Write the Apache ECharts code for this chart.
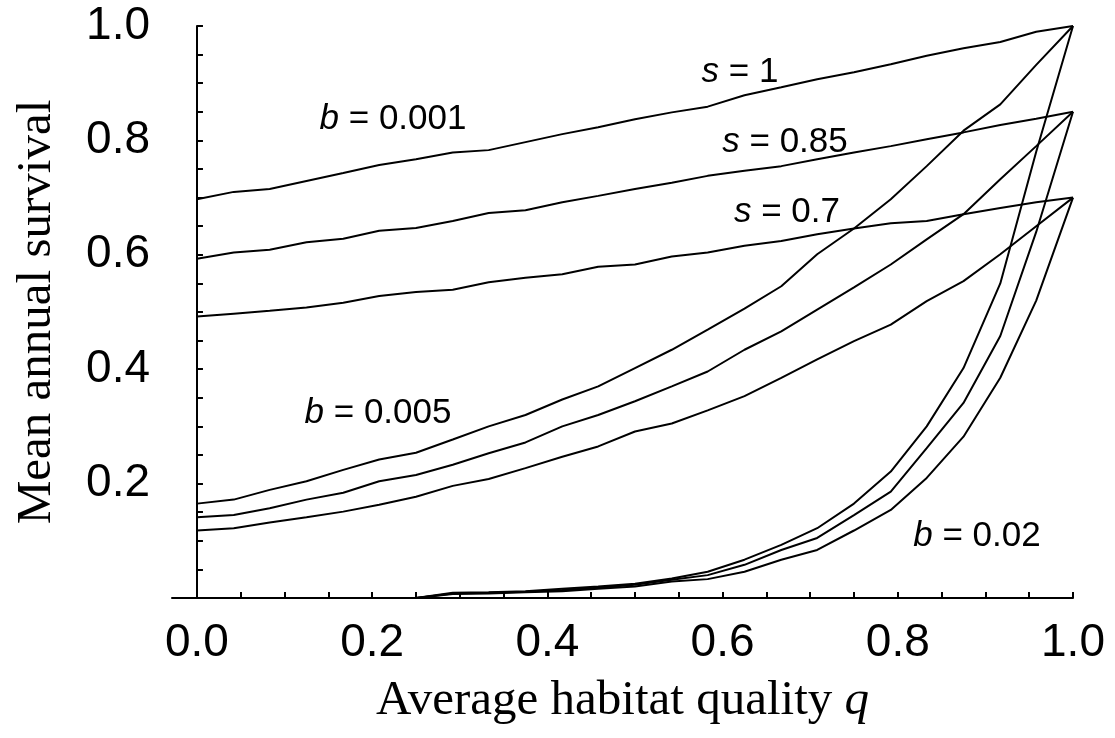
<!DOCTYPE html>
<html>
<head>
<meta charset="utf-8">
<title>Mean annual survival</title>
<script src="https://cdn.jsdelivr.net/npm/echarts@6.0.0/dist/echarts.min.js"></script>
<style>
    html, body { margin: 0; padding: 0; background: #fff; }
    #chart { width: 1115px; height: 738px; }
</style>
</head>
<body>
<div id="chart"></div>
<script>
// average habitat quality q (25 steps of 1/24)
const qValues = [0, 0.042, 0.083, 0.125, 0.167, 0.208, 0.25, 0.292, 0.333, 0.375, 0.417, 0.458, 0.5,
    0.542, 0.583, 0.625, 0.667, 0.708, 0.75, 0.792, 0.833, 0.875, 0.917, 0.958, 1];

// b = 0.001
const b001s100 = [0.697, 0.710, 0.715, 0.729, 0.743, 0.757, 0.767, 0.779, 0.783, 0.797, 0.811, 0.823, 0.837,
    0.849, 0.859, 0.879, 0.893, 0.907, 0.919, 0.933, 0.948, 0.961, 0.972, 0.990, 1.0];
const b001s085 = [0.593, 0.604, 0.609, 0.622, 0.628, 0.642, 0.647, 0.659, 0.673, 0.678, 0.692, 0.703, 0.715,
    0.726, 0.738, 0.747, 0.755, 0.767, 0.779, 0.790, 0.802, 0.814, 0.827, 0.838, 0.85];
const b001s070 = [0.492, 0.497, 0.502, 0.508, 0.516, 0.528, 0.535, 0.539, 0.552, 0.560, 0.566, 0.579, 0.583,
    0.597, 0.604, 0.616, 0.624, 0.636, 0.646, 0.655, 0.659, 0.671, 0.682, 0.692, 0.70];

// b = 0.005
const b005s100 = [0.165, 0.172, 0.189, 0.204, 0.224, 0.242, 0.254, 0.277, 0.300, 0.320, 0.347, 0.370, 0.402,
    0.434, 0.469, 0.506, 0.545, 0.601, 0.646, 0.697, 0.755, 0.817, 0.863, 0.932, 1.0];
const b005s085 = [0.141, 0.145, 0.157, 0.172, 0.184, 0.204, 0.215, 0.233, 0.253, 0.272, 0.300, 0.320, 0.344,
    0.370, 0.396, 0.434, 0.466, 0.504, 0.543, 0.583, 0.627, 0.671, 0.732, 0.790, 0.85];
const b005s070 = [0.118, 0.122, 0.132, 0.141, 0.151, 0.163, 0.177, 0.196, 0.208, 0.227, 0.247, 0.265, 0.291,
    0.305, 0.328, 0.353, 0.385, 0.417, 0.449, 0.478, 0.519, 0.554, 0.601, 0.650, 0.70];

// b = 0.02
const b02s100 = [0, 0, 0, 0, 0, 0, 0, 0.009, 0.010, 0.012, 0.016, 0.020, 0.025,
    0.034, 0.046, 0.067, 0.093, 0.122, 0.165, 0.221, 0.300, 0.402, 0.550, 0.780, 1.0];
const b02s085 = [0, 0, 0, 0, 0, 0, 0, 0.008, 0.009, 0.011, 0.014, 0.018, 0.023,
    0.032, 0.040, 0.058, 0.084, 0.105, 0.145, 0.186, 0.262, 0.341, 0.458, 0.640, 0.85];
const b02s070 = [0, 0, 0, 0, 0, 0, 0, 0.007, 0.008, 0.010, 0.012, 0.016, 0.020,
    0.029, 0.033, 0.046, 0.067, 0.084, 0.118, 0.154, 0.210, 0.282, 0.385, 0.520, 0.70];

const xTickLabels = [0, 0.2, 0.4, 0.6, 0.8, 1.0];
const xTicks = [0, 0.05, 0.1, 0.15, 0.2, 0.25, 0.3, 0.35, 0.4, 0.45, 0.5, 0.55, 0.6, 0.65, 0.7, 0.75, 0.8,
    0.85, 0.9, 0.95, 1.0];

const curves = [b001s100, b001s085, b001s070, b005s100, b005s085, b005s070, b02s100, b02s085, b02s070];

(function () {
    let chart = echarts.init(document.querySelector("#chart"));

    const sans = 'Liberation Sans';
    const serif = 'Liberation Serif';

    // annotation text, rich so that b and s come out italic
    function note(text, x, y) {
        return {
            type: 'text',
            x: x,
            y: y,
            style: {
                text: text,
                fontFamily: sans,
                fontSize: 35,
                fill: '#000',
                align: 'center',
                verticalAlign: 'middle',
                rich: {
                    i: { fontFamily: sans, fontSize: 35, fontStyle: 'italic', fill: '#000' }
                }
            }
        };
    }

    let option = {
        animation: false,
        backgroundColor: '#fff',
        grid: { left: 172, right: 42, top: 26, bottom: 140, outerBoundsMode: 'none' },
        xAxis: {
            type: 'value',
            min: -0.0285,
            max: 1,
            name: 'Average habitat quality {i|q}',
            nameLocation: 'middle',
            nameGap: 79,
            nameTextStyle: {
                fontFamily: serif, fontSize: 49, color: '#000',
                rich: { i: { fontFamily: serif, fontSize: 49, fontStyle: 'italic', color: '#000' } }
            },
            axisLine: { lineStyle: { color: '#000', width: 2 } },
            axisTick: { inside: true, length: 6, customValues: xTicks, lineStyle: { color: '#000', width: 2 } },
            axisLabel: {
                customValues: xTickLabels,
                formatter: v => v.toFixed(1),
                fontFamily: sans, fontSize: 46, color: '#000', margin: 22
            },
            splitLine: { show: false }
        },
        yAxis: {
            type: 'value',
            min: 0,
            max: 1,
            interval: 0.2,
            name: 'Mean annual survival',
            nameLocation: 'middle',
            nameRotate: 90,
            nameGap: 110,
            nameTextStyle: { fontFamily: serif, fontSize: 49, color: '#000' },
            axisLine: { show: true, onZero: true, lineStyle: { color: '#000', width: 2 } },
            axisTick: { inside: true, length: 6, lineStyle: { color: '#000', width: 2 } },
            minorTick: { show: true, splitNumber: 4, length: 6, lineStyle: { color: '#000', width: 2 } },
            axisLabel: {
                showMinLabel: false,
                formatter: v => v.toFixed(1),
                fontFamily: sans, fontSize: 46, color: '#000', margin: 22
            },
            splitLine: { show: false },
            minorSplitLine: { show: false }
        },
        series: curves.map(vals => ({
            type: 'line',
            data: vals.map((v, k) => [qValues[k], v]),
            showSymbol: false,
            symbol: 'none',
            clip: false,
            lineStyle: { color: '#000', width: 2 }
        })),
        graphic: [
            note('{i|b} = 0.001', 393, 119),
            note('{i|s} = 1', 740, 72),
            note('{i|s} = 0.85', 785, 142),
            note('{i|s} = 0.7', 787, 212),
            note('{i|b} = 0.005', 378, 413),
            note('{i|b} = 0.02', 977, 536)
        ]
    };

    chart.setOption(option);

    window.addEventListener('resize', () => chart.resize());
})();
</script>
</body>
</html>
